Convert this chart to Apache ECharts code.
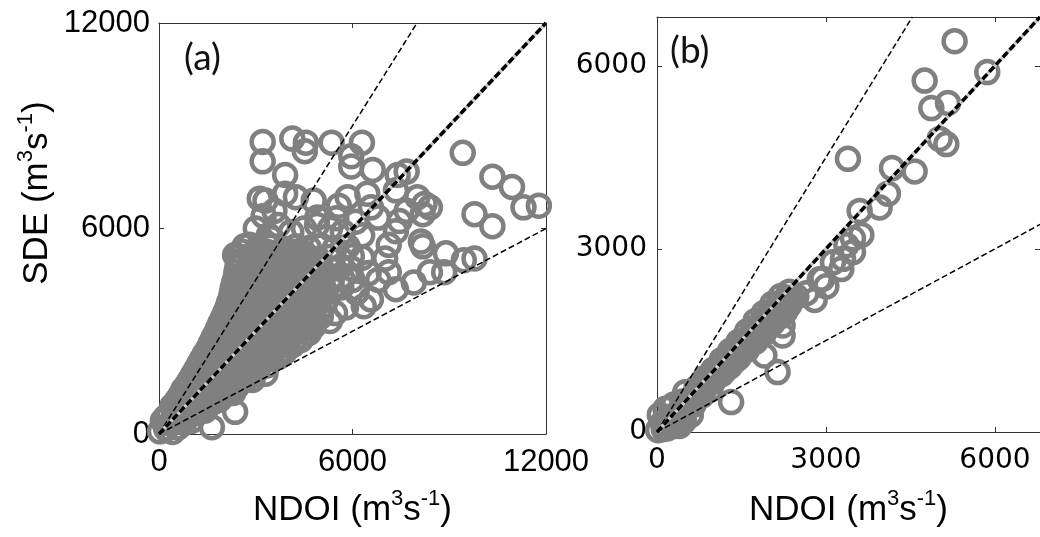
<!DOCTYPE html>
<html>
<head>
<meta charset="utf-8">
<script src="https://cdn.jsdelivr.net/npm/echarts@6/dist/echarts.min.js"></script>
<style>
html,body{margin:0;padding:0;background:#fff;}
#chart{width:1040px;height:537px;}
</style>
</head>
<body>
<div id="chart"></div>
<script>
// ---------- data ----------
const panelATicks = [0, 6000, 12000];
const panelBTicks = [0, 3000, 6000];
const panelAMax = 12000;
const panelBMax = 6800;

// Panel (a): [NDOI, SDE]
const panelAPoints = [
  [30,80],[220,150],[420,60],[600,200],
  [120,380],[350,300],[560,420],[780,330],[1000,380],
  [200,480],[450,500],[680,520],[900,540],
  [300,560],[520,700],[760,620],[980,700],[1200,620],[1420,680],
  [420,820],[650,780],[880,830],[1100,790],[1320,820],
  [560,980],[780,900],[1000,1000],[1230,920],[1460,990],[1680,930],[1880,1000],
  [660,1120],[890,1080],[1110,1130],[1340,1070],[1560,1120],[1780,1080],[2000,1130],
  [760,1300],[980,1220],[1200,1280],[1430,1200],[1650,1290],[1880,1230],[2100,1270],[2300,1200],
  [860,1420],[1090,1380],[1310,1430],[1540,1370],[1760,1440],[1990,1380],[2200,1420],[2420,1390],
  [950,1560],[1180,1500],[1400,1580],[1630,1520],[1860,1590],[2080,1500],[2300,1570],[2520,1520],[2700,1600],
  [1050,1720],[1270,1680],[1510,1730],[1740,1670],[1980,1740],[2210,1680],[2440,1720],[2680,1690],[2900,1730],
  [1150,1880],[1380,1800],[1620,1860],[1860,1820],[2100,1880],[2340,1810],[2580,1870],[2820,1830],[3050,1880],
  [1240,2030],[1480,1970],[1720,2040],[1960,1980],[2200,2030],[2440,1960],[2680,2020],[2920,1990],[3150,2040],[3350,2000],
  [1330,2180],[1570,2120],[1810,2190],[2050,2110],[2290,2170],[2530,2130],[2770,2190],[3010,2120],[3250,2180],[3480,2200],
  [1420,2330],[1680,2270],[1930,2320],[2180,2260],[2420,2330],[2680,2280],[2930,2340],[3180,2270],[3430,2320],[3680,2290],
  [1520,2480],[1780,2420],[2040,2490],[2300,2410],[2560,2470],[2820,2430],[3080,2490],[3340,2420],[3600,2480],[3860,2450],
  [1600,2630],[1860,2580],[2120,2640],[2380,2570],[2640,2620],[2900,2580],[3160,2640],[3420,2580],[3680,2630],[3940,2600],
  [1680,2790],[1940,2720],[2200,2780],[2460,2710],[2720,2770],[2980,2730],[3240,2790],[3500,2720],[3760,2780],[4020,2740],[4250,2800],
  [1760,2930],[2020,2870],[2280,2920],[2540,2860],[2800,2930],[3060,2870],[3320,2930],[3580,2870],[3840,2920],[4100,2880],
  [1830,3080],[2090,3010],[2350,3070],[2610,3020],[2870,3090],[3130,3010],[3390,3060],[3650,3030],[3910,3080],[4170,3020],[4430,3060],[4660,3100],
  [1900,3230],[2160,3170],[2420,3220],[2680,3160],[2940,3230],[3200,3170],[3460,3220],[3720,3160],[3980,3230],[4240,3180],[4500,3220],
  [1980,3380],[2240,3320],[2500,3370],[2760,3310],[3020,3380],[3280,3320],[3540,3370],[3800,3310],[4060,3380],[4320,3330],[4580,3370],[4840,3320],
  [2050,3530],[2310,3470],[2570,3520],[2830,3460],[3090,3530],[3350,3470],[3610,3520],[3870,3460],[4130,3530],[4390,3480],[4650,3520],
  [2120,3680],[2380,3620],[2640,3670],[2900,3610],[3160,3680],[3420,3630],[3680,3690],[3940,3620],[4200,3670],[4460,3610],[4720,3680],[4980,3640],
  [2170,3830],[2440,3770],[2710,3820],[2980,3760],[3250,3830],[3520,3770],[3790,3830],[4060,3770],[4330,3820],[4600,3780],[4870,3830],
  [2230,3980],[2500,3920],[2770,3970],[3040,3910],[3310,3980],[3580,3930],[3850,3990],[4120,3920],[4390,3970],[4660,3930],[4930,3990],[5200,3940],
  [2260,4130],[2540,4070],[2820,4120],[3100,4060],[3380,4130],[3660,4070],[3940,4130],[4220,4070],[4500,4120],[4780,4080],[5060,4130],
  [2290,4280],[2570,4220],[2850,4270],[3130,4210],[3410,4280],[3690,4230],[3970,4290],[4250,4220],[4530,4270],[4810,4230],[5090,4290],[5370,4240],[5650,4280],
  [2330,4430],[2630,4370],[2930,4420],[3230,4360],[3530,4430],[3830,4370],[4130,4430],[4430,4370],[4730,4420],[5030,4380],[5330,4430],
  [2380,4580],[2680,4520],[2980,4570],[3280,4510],[3580,4580],[3880,4530],[4180,4590],[4480,4520],[4780,4570],[5080,4530],[5380,4590],[5680,4540],
  [2400,4730],[2720,4670],[3040,4720],[3360,4660],[3680,4730],[4000,4670],[4320,4730],[4640,4670],[4960,4720],
  [2430,4880],[2750,4820],[3070,4870],[3390,4810],[3710,4880],[4030,4830],[4350,4890],[4670,4820],[4990,4870],[5310,4830],[5630,4890],[5950,4840],
  [2460,5030],[2800,4970],[3140,5020],[3480,4960],[3820,5030],[4160,4970],[4500,5030],[4840,4970],
  [2480,5180],[2830,5120],[3180,5170],[3530,5110],[3880,5180],[4230,5130],[4580,5190],[4930,5120],[5280,5170],[5630,5130],[5980,5190],[6300,5150],
  [2560,5330],[2950,5270],[3340,5320],[3730,5260],[4120,5330],[4510,5270],
  [2650,5480],[3050,5420],[3450,5470],[3850,5410],[4250,5480],[4650,5430],[5050,5490],[5450,5420],[5850,5470],
  [2900,1580],[3300,1760],[3700,2250],[3900,2400],[4150,2600],[4400,2750],[4650,2950],[4800,3150],
  [3214,8528],[4133,8627],[4554,8507],[4521,8259],[5352,8507],[6293,8507],
  [3214,7961],[3912,7562],[5961,8110],[5961,7811],[6625,7711],[7402,7562],[7679,7662],[9418,8209],
  [10338,7513],[10946,7214],[11302,6617],[11779,6666],[9783,6418],[10338,6069],
  [9451,5075],[9783,5124],[8898,5274],[8842,4726],[8400,4726],[8121,5621],[8180,5480],
  [8011,6916],[8233,6717],[8400,6617],[8177,6418],[7679,6517],[7457,6219],[7346,7114],
  [7900,4427],[7346,4229],[6349,3731],[6572,3931],[6126,4128],[5019,3433],[5461,3532],[4687,3233],
  [2360,648],[1640,199],
  [2802,5522],[2360,5224],[3125,6871],[3301,6815],[3912,7015],[4245,6916],[4797,6815],[5574,6666],[4909,6318],[3246,6368],[3580,6517],[3468,5721],
  [5850,6916],[6459,7015],[6572,6617],[6791,6318],[7124,5522],[7346,5920],[7014,5124],[7124,4726],
  [4500,6000],[4100,5900],[3700,6100],[3000,6000],[3400,5800],[4900,6100],[5300,6000],[5700,5900],[6100,6200],[6300,5800],[5500,6300],
  [6800,4500],[6500,4700],[5800,3700],[5300,3300],[6000,4500]
];

// Panel (b): [NDOI, SDE]
const panelBPoints = [
  [20,30],[100,150],[180,60],[50,280],[250,220],[330,100],[150,380],[400,330],[480,180],[300,450],[550,420],[600,280],
  [400,100],[250,400],[450,500],[650,450],[500,650],[800,600],[950,700],[800,800],[950,900],
  [120,50],[200,200],[350,300],[300,150],[450,250],[600,550],[750,650],[900,780],
  [700,620],[700,720],[775,700],[850,720],[850,880],[925,820],[1000,830],[1000,1020],[1075,950],[1150,950],[1150,1180],
  [1225,1100],[1300,1080],[1300,1330],[1375,1250],[1450,1220],[1450,1480],[1525,1400],[1600,1350],[1600,1650],[1675,1550],
  [1750,1480],[1750,1820],[1825,1700],[1900,1620],[1900,1950],[1975,1850],[2050,1780],[2050,2100],[2125,2000],[2200,1900],
  [2200,2230],[2350,2080],[2350,2300],
  [1100,1050],[1250,1200],[1400,1350],[1550,1500],[1700,1700],[1850,1800],[2000,1950],[2150,2100],[2300,2200],
  [1200,1000],[1350,1150],[1500,1300],[1650,1450],[1800,1600],[1950,1750],[2100,1850],[2280,1980],
  [1050,900],[1180,1060],[1330,1200],[1480,1330],[1630,1500],[1780,1650],[1930,1800],[2080,1920],[2250,2080],
  [1400,1180],[1550,1380],[1700,1560],[1850,1700],[2000,1850],[2150,1980],[2300,2120],[2400,2200],
  [5284,6403],[5864,5898],[4752,5758],[4871,5308],[5166,5392],[5018,4802],[5137,4718],[3390,4477],[4172,4325],[4574,4270],
  [4100,3904],[3953,3680],[3598,3623],[3628,3230],[3479,3174],[3362,3062],[3479,2949],[3302,2838],[3273,2669],[3124,2780],
  [3007,2388],[2888,2501],[2799,2164],[2652,2275],[2474,2219],[2938,2510],[2230,1745],[2230,1582],[1906,1254],[2141,982],[1316,491]
];

// Reference lines (endpoints): 1.5:1, 1:1, 0.5:1
const panelAUpperLine = [[0,0],[8000,12000]];
const panelAOneToOne  = [[0,0],[12000,12000]];
const panelALowerLine = [[0,0],[12000,6000]];
const panelBUpperLine = [[0,0],[4533,6800]];
const panelBOneToOne  = [[0,0],[6800,6800]];
const panelBLowerLine = [[0,0],[6800,3400]];

// ---------- chart ----------
const SANS = '"Liberation Sans", Arial, sans-serif';
const chart = echarts.init(document.getElementById('chart'), null, {renderer: 'canvas'});

const supRich = {sup: {fontSize: 22, lineHeight: 22, verticalAlign: 'top', fontFamily: SANS, color: '#000'}};
const axisColor = '#333';
const plain = v => String(v);

function ax(grid, max, ticks, pos, labelOpt, nameOpt) {
  const o = {
    gridIndex: grid, type: 'value', position: pos, min: 0, max: max,
    interval: ticks[1] - ticks[0],
    axisLine: {show: true, onZero: false, lineStyle: {color: axisColor, width: 1}},
    axisTick: {show: true, inside: true, length: 5, lineStyle: {color: axisColor}},
    splitLine: {show: false},
    axisLabel: labelOpt ? labelOpt : {show: false}
  };
  if (nameOpt) Object.assign(o, nameOpt);
  return o;
}

const labelA = {show: true, fontSize: 31, fontFamily: SANS, color: '#000', margin: 13, formatter: plain};
const labelAy = {show: true, fontSize: 31, fontFamily: SANS, color: '#000', margin: 9, formatter: plain};
const labelB = {show: true, fontSize: 28, fontFamily: '"DejaVu Sans", sans-serif', color: '#000', margin: 15, showMaxLabel: false, formatter: plain};
const labelBy = {show: true, fontSize: 28, fontFamily: '"DejaVu Sans", sans-serif', color: '#000', margin: 10, showMaxLabel: false, formatter: plain};

const xName = (gap) => ({
  name: 'NDOI (m{sup|3}s{sup|-1})', nameLocation: 'middle', nameGap: gap,
  nameTextStyle: {fontSize: 35, fontFamily: SANS, color: '#000', lineHeight: 44, rich: supRich}
});

const dashedLine = (data, xi, yi) => ({
  type: 'line', data: data, xAxisIndex: xi, yAxisIndex: yi, symbol: 'none', silent: true, z: 5,
  lineStyle: {color: '#000', width: 1.5, type: [6, 3]}
});
const oneToOne = (data, xi, yi) => ([
  {type: 'line', data: data, xAxisIndex: xi, yAxisIndex: yi, symbol: 'none', silent: true, z: 5,
   lineStyle: {color: '#c8c8c8', width: 3.5, type: 'solid'}},
  {type: 'line', data: data, xAxisIndex: xi, yAxisIndex: yi, symbol: 'none', silent: true, z: 6,
   lineStyle: {color: '#000', width: 3.5, type: [7, 3]}}
]);
const scatter = (data, xi, yi) => ({
  type: 'scatter', data: data, xAxisIndex: xi, yAxisIndex: yi, symbol: 'circle', symbolSize: 22,
  clip: false, silent: true, z: 2,
  itemStyle: {color: 'rgba(0,0,0,0)', borderColor: '#808080', borderWidth: 4.5, opacity: 1}
});

const option = {
  animation: false,
  backgroundColor: '#fff',
  title: [
    {text: '(a)', left: 184, top: 40, padding: 0,
     textStyle: {fontFamily: 'Lato, "Open Sans", sans-serif', fontSize: 37, fontWeight: 'normal', color: '#111'}},
    {text: '(b)', left: 670, top: 33, padding: 0,
     textStyle: {fontFamily: 'Lato, "Open Sans", sans-serif', fontSize: 37, fontWeight: 'normal', color: '#111'}}
  ],
  grid: [
    {left: 159, top: 23, width: 387, height: 414, containLabel: false},
    {left: 657, top: 17, width: 384, height: 417, containLabel: false}
  ],
  xAxis: [
    ax(0, panelAMax, panelATicks, 'bottom', labelA, xName(54)),
    ax(0, panelAMax, panelATicks, 'top', null),
    ax(1, panelBMax, panelBTicks, 'bottom', labelB, xName(56)),
    ax(1, panelBMax, panelBTicks, 'top', null)
  ],
  yAxis: [
    ax(0, panelAMax, panelATicks, 'left', labelAy),
    ax(0, panelAMax, panelATicks, 'right', null),
    ax(1, panelBMax, panelBTicks, 'left', labelBy),
    ax(1, panelBMax, panelBTicks, 'right', null)
  ],
  graphic: [
    {type: 'text', x: 37, y: 193, rotation: Math.PI / 2, silent: true,
     style: {text: 'SDE (m{sup|3}s{sup|-1})', fontSize: 35, fontFamily: SANS, fill: '#000',
             align: 'center', verticalAlign: 'middle', lineHeight: 44,
             rich: {sup: {fontSize: 22, lineHeight: 22, verticalAlign: 'top', fontFamily: SANS, fill: '#000'}}}}
  ],
  series: [
    scatter(panelAPoints, 0, 0),
    dashedLine(panelAUpperLine, 0, 0),
    ...oneToOne(panelAOneToOne, 0, 0),
    dashedLine(panelALowerLine, 0, 0),
    scatter(panelBPoints, 2, 2),
    dashedLine(panelBUpperLine, 2, 2),
    ...oneToOne(panelBOneToOne, 2, 2),
    dashedLine(panelBLowerLine, 2, 2)
  ]
};
chart.setOption(option);
</script>
</body>
</html>
